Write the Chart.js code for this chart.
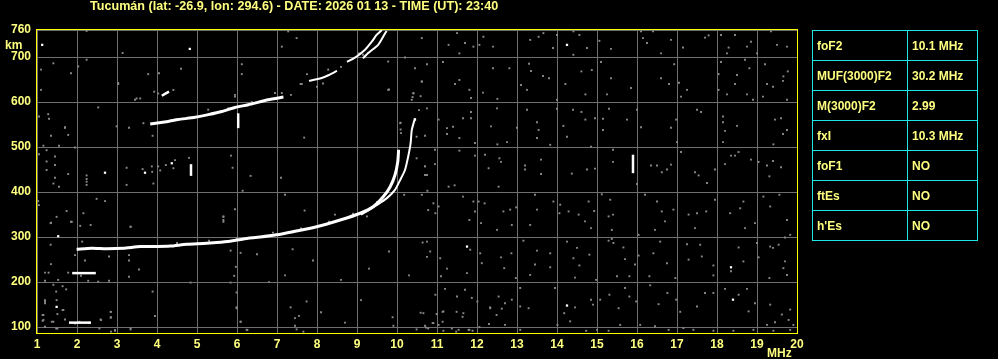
<!DOCTYPE html>
<html>
<head>
<meta charset="utf-8">
<script src="https://cdn.jsdelivr.net/npm/chart.js@4.4.0/dist/chart.umd.min.js"></script>
<style>
html, body { margin: 0; padding: 0; background: #000; }
#wrap { position: relative; width: 998px; height: 359px; overflow: hidden; background: #000; }
#title { position: absolute; left: 90px; top: -1px; font: bold 12.6px "Liberation Sans", Arial, sans-serif; color: #ffff80; white-space: nowrap; }
#params { position: absolute; left: 812px; top: 30px; border-collapse: collapse; table-layout: fixed; font: bold 12px "Liberation Sans", Arial, sans-serif; color: #ffff80; }
#params td { border: 1px solid #1ee6e6; height: 29px; padding: 0 0 0 4px; white-space: nowrap; }
#params td.k { width: 90px; }
#params td.v { width: 65px; }
</style>
</head>
<body>
<div id="wrap">
  <canvas id="mainChart" width="998" height="359"></canvas>
  <div id="title">Tucumán (lat: -26.9, lon: 294.6) - DATE: 2026 01 13 - TIME (UT): 23:40</div>
  <table id="params"></table>
</div>
<script>
// axis ticks
const freqTicks = [1, 2, 3, 4, 5, 6, 7, 8, 9, 10, 11, 12, 13, 14, 15, 16, 17, 18, 19, 20];
const heightTicks = [100, 200, 300, 400, 500, 600, 700, 760];

// scaled parameters table
const paramNames = ['foF2', 'MUF(3000)F2', 'M(3000)F2', 'fxI', 'foF1', 'ftEs', "h'Es"];
const paramValues = ['10.1 MHz', '30.2 MHz', '2.99', '10.3 MHz', 'NO', 'NO', 'NO'];

// F layer trace, ordinary
const oTraceMHz = [1.99, 2.37, 2.74, 3.16, 3.58, 3.99, 4.33, 4.74, 5.16, 5.49, 5.83, 6.16, 6.58, 6.99, 7.4, 7.99, 8.58, 9.08, 9.41, 9.66, 9.83, 9.95, 10.02, 10.04];
const oTraceKm = [273, 275, 274, 275, 279, 279, 280, 284, 286, 288, 291, 296, 300, 305, 312, 323, 338, 353, 368, 390, 412, 438, 468, 494];

// F layer trace, extraordinary
const xTraceMHz = [9.1, 9.24, 9.49, 9.74, 9.95, 10.08, 10.2, 10.28, 10.34, 10.37, 10.45];
const xTraceKm = [350, 357, 371, 386, 405, 427, 449, 479, 508, 538, 564];

// second hop
const hop2MHz = [3.83, 4.28, 4.53, 4.95, 5.28, 5.62, 5.95, 6.28, 6.78, 7.16];
const hop2Km = [551, 557, 561, 566, 572, 579, 588, 594, 605, 611];
const hop2bMHz = [7.8, 8.1, 8.3, 8.5];
const hop2bKm = [647, 653, 660, 669];
const hop2cMHz = [8.75, 8.99, 9.2, 9.37, 9.49, 9.62];
const hop2cKm = [689, 701, 716, 734, 749, 760];
const hop2dMHz = [9.15, 9.28, 9.53, 9.66, 9.74];
const hop2dKm = [697, 709, 727, 746, 758];

// short echoes
const shortEchoes = [
  { mhz: [1.88, 2.47], km: [220, 220] },
  { mhz: [1.8, 2.35], km: [110, 110] },
  { mhz: [6.03, 6.03], km: [542, 575] },
  { mhz: [15.9, 15.9], km: [442, 483] },
  { mhz: [4.12, 4.3], km: [614, 623] },
  { mhz: [4.85, 4.85], km: [436, 462] }
];

// isolated strong echoes [MHz, km]
const whiteSpots = [[14.25, 727], [11.75, 279], [18.35, 233], [14.25, 148], [18.4, 161], [4.82, 718], [2.7, 443], [3.7, 443],
  [4.37, 464], [1.53, 302], [1.49, 145], [10.45, 561], [1.13, 727]];

// weak echoes / noise [MHz, km]
const noiseEchoes = [
  [11.5, 753], [11.29, 727], [11.7, 731], [11.56, 708], [11.91, 723], [12.16, 745], [12.4, 723], [12.06, 727], [13.33, 738], [13.66, 753],
  [13.54, 745], [13.9, 720], [14.0, 749], [14.41, 757], [14.56, 749], [14.41, 705], [14.75, 720], [15.35, 718], [15.06, 736], [16.1, 757],
  [16.15, 742], [16.25, 731], [16.4, 757], [16.85, 738], [16.6, 708], [17.15, 721], [17.7, 743], [17.79, 748], [18.1, 749], [18.45, 749],
  [18.29, 721], [18.25, 708], [18.85, 734], [18.75, 723], [19.0, 708], [19.35, 757], [19.5, 727], [19.75, 723],
  [10.75, 684], [11.15, 689], [11.56, 649], [11.45, 640], [11.81, 627], [11.85, 609], [12.15, 621], [12.4, 675], [12.51, 607], [12.81, 675],
  [13.1, 638], [13.25, 627], [13.35, 669], [13.3, 685], [13.65, 658], [13.8, 653], [14.0, 605], [14.21, 640], [14.61, 668], [14.71, 617],
  [14.87, 671], [15.1, 689], [15.35, 653], [15.25, 617], [15.85, 631], [16.6, 653], [16.8, 640], [16.93, 684], [17.05, 643], [17.25, 627],
  [17.1, 612], [18.1, 689], [18.04, 662], [18.5, 660], [18.81, 675], [18.7, 694], [18.45, 640], [18.04, 627], [18.25, 617], [18.75, 617],
  [18.9, 605], [19.2, 684], [19.25, 640], [19.4, 634], [19.66, 657], [19.65, 647], [19.77, 668], [19.15, 612], [19.75, 605],
  [10.75, 586], [11.04, 561], [11.25, 542], [11.4, 545], [11.25, 529], [11.56, 520], [11.65, 564], [11.85, 578], [11.85, 564], [11.95, 509],
  [12.35, 546], [12.5, 586], [12.51, 506], [12.75, 511], [13.0, 543], [13.25, 583], [13.5, 555], [13.54, 538], [13.5, 520], [14.0, 585],
  [14.16, 547], [14.25, 523], [14.4, 583], [14.61, 578], [14.71, 561], [14.95, 564], [15.15, 563], [15.3, 585], [15.15, 538], [15.75, 561],
  [16.0, 583], [16.1, 544], [16.85, 543], [16.98, 561], [17.0, 511], [17.5, 583], [17.6, 578], [18.15, 568], [18.15, 555], [18.2, 536],
  [18.15, 511], [18.5, 547], [19.45, 561], [19.6, 564], [19.75, 538], [19.65, 529], [19.41, 506],
  [10.95, 494], [10.7, 457], [10.95, 462], [10.75, 438], [11.56, 492], [11.95, 481], [12.2, 483], [12.29, 453], [12.56, 475], [12.6, 467],
  [13.2, 459], [13.2, 450], [13.6, 472], [13.6, 440], [13.83, 505], [14.37, 441], [14.75, 450], [14.95, 452], [14.85, 501], [15.4, 494],
  [15.4, 467], [16.35, 459], [16.5, 459], [16.62, 444], [16.85, 461], [16.75, 450], [17.1, 489], [17.45, 444], [17.54, 437], [17.95, 450],
  [18.2, 462], [18.35, 481], [18.45, 481], [18.54, 489], [18.85, 472], [19.04, 467], [19.25, 459], [19.4, 469], [19.6, 455], [19.31, 435],
  [10.91, 375], [11.04, 368], [10.96, 353], [11.29, 412], [11.44, 415], [11.65, 390], [11.91, 379], [12.04, 379], [12.19, 375], [11.81, 338],
  [11.95, 357], [12.1, 331], [12.54, 412], [12.66, 357], [12.83, 361], [12.98, 366], [12.87, 327], [12.5, 316], [13.45, 394], [13.5, 361],
  [13.33, 327], [13.91, 379], [14.08, 372], [14.06, 353], [14.29, 357], [14.54, 350], [14.7, 335], [14.79, 379], [14.93, 358], [14.85, 320],
  [15.12, 395], [15.33, 383], [15.29, 346], [15.4, 350], [15.37, 316], [15.37, 296], [16.0, 418], [16.04, 305], [16.2, 394], [16.5, 379],
  [16.62, 357], [16.7, 335], [16.45, 316], [16.91, 361], [17.29, 350], [17.5, 353], [17.73, 357], [17.45, 320], [17.75, 420], [17.95, 383],
  [18.33, 353], [18.58, 364], [18.66, 379], [18.7, 320], [18.95, 331], [19.16, 390], [19.33, 368], [19.56, 394], [19.75, 338], [19.83, 305],
  [19.7, 299],
  [10.75, 290], [10.83, 268], [10.75, 256], [11.08, 253], [11.25, 230], [11.1, 213], [11.83, 272], [11.75, 220], [12.12, 242], [12.08, 264],
  [12.6, 255], [12.86, 264], [12.68, 231], [12.97, 209], [13.16, 292], [13.5, 270], [13.45, 239], [13.33, 216], [13.83, 233], [13.83, 264],
  [14.25, 290], [14.5, 276], [14.41, 253], [14.56, 237], [14.45, 210], [14.81, 261], [14.98, 205], [15.29, 292], [15.41, 287], [15.66, 277],
  [15.7, 251], [15.81, 213], [15.5, 213], [16.04, 259], [15.95, 239], [16.31, 213], [16.41, 264], [16.58, 290], [16.75, 242], [16.96, 209],
  [17.25, 284], [17.29, 250], [17.58, 283], [17.62, 257], [17.91, 237], [17.91, 215], [18.35, 224], [18.54, 277], [18.66, 246], [19.0, 287],
  [19.04, 255], [19.33, 279], [19.4, 276], [19.54, 283], [19.66, 231], [19.75, 216], [19.31, 209], [19.7, 246],
  [10.96, 172], [11.2, 185], [11.5, 168], [11.7, 183], [11.87, 165], [11.66, 131], [11.16, 135], [10.66, 131], [10.91, 109], [12.33, 142],
  [12.54, 168], [12.7, 153], [12.62, 141], [12.87, 161], [13.08, 146], [13.29, 142], [13.08, 187], [13.95, 187], [14.18, 131], [14.45, 144],
  [14.85, 161], [14.9, 150], [15.08, 161], [15.31, 172], [15.54, 142], [15.7, 187], [15.81, 168], [15.98, 157], [16.33, 193], [16.54, 151],
  [16.76, 176], [16.98, 161], [17.08, 134], [17.5, 146], [17.7, 176], [17.91, 176], [18.2, 185], [18.54, 172], [18.75, 185], [18.95, 153],
  [18.79, 135], [19.33, 150], [19.62, 128], [19.83, 139], [19.79, 116], [19.45, 111], [19.25, 105],
  [10.73, 99], [11.04, 105], [11.54, 94], [11.79, 94], [12.7, 105], [13.08, 94], [14.01, 105], [14.33, 113], [14.73, 92], [15.0, 94],
  [15.29, 92], [15.58, 105], [16.08, 105], [16.45, 102], [16.79, 94], [17.16, 98], [17.41, 94], [17.91, 92], [18.41, 92], [18.91, 94],
  [19.41, 92], [19.83, 94], [19.91, 105], [10.49, 95], [10.59, 132], [10.7, 103], [10.78, 97], [10.89, 109], [10.99, 129], [11.14, 134],
  [11.14, 112], [11.16, 92], [11.49, 134], [11.64, 123], [11.37, 97], [11.48, 90], [11.81, 94], [11.89, 92], [12.01, 157], [12.06, 100],
  [12.3, 107], [12.33, 144], [12.49, 127],
  [1.2, 157], [1.66, 138], [1.16, 127], [1.51, 129], [1.16, 116], [1.41, 112], [1.2, 101], [1.51, 97], [2.85, 134], [2.85, 122],
  [2.6, 116], [2.56, 97], [2.85, 90], [2.95, 92], [3.34, 95], [3.95, 125], [5.99, 144], [6.09, 112], [6.24, 94], [7.34, 144],
  [7.74, 157], [7.55, 125], [7.45, 120], [7.45, 103], [7.49, 95], [7.66, 90], [8.7, 110], [9.89, 122], [9.91, 103],
  [2.24, 758], [2.03, 679], [3.14, 709], [1.41, 686], [1.1, 672], [1.85, 664], [2.24, 694], [4.6, 674], [4.05, 664], [3.78, 662],
  [3.03, 640], [1.1, 627], [2.53, 588], [1.28, 573], [1.3, 563], [1.05, 568], [3.66, 553], [2.99, 546], [1.7, 544], [6.12, 684],
  [6.12, 662], [5.95, 612], [7.12, 723], [7.49, 742], [7.28, 757], [8.28, 672], [7.62, 640], [7.35, 616], [9.78, 690], [10.2, 699],
  [10.45, 675], [9.78, 627], [10.41, 620], [10.37, 605], [10.62, 646], [10.62, 742], [10.08, 553],
  [1.7, 543], [1.35, 525], [1.78, 527], [1.16, 503], [1.55, 503], [1.24, 493], [1.05, 484], [1.45, 479], [1.24, 468], [1.45, 460],
  [1.24, 449], [1.78, 440], [1.45, 432], [1.41, 419], [1.55, 412], [1.95, 499], [2.24, 437], [2.24, 429], [2.24, 423], [2.24, 416],
  [3.24, 454], [3.24, 416], [3.64, 451], [3.87, 457], [3.88, 445], [4.03, 457], [4.08, 448], [4.22, 460], [4.41, 453], [4.45, 471],
  [4.8, 476], [3.91, 419], [3.89, 525], [3.3, 543], [5.85, 481], [5.89, 454],
  [1.03, 380], [1.05, 371], [2.49, 385], [2.7, 380], [1.74, 358], [1.49, 345], [1.35, 332], [1.85, 334], [2.16, 353], [5.66, 345], [5.66, 334],
  [1.34, 331], [1.87, 334], [2.08, 325], [2.34, 327], [3.34, 323], [1.95, 260], [1.34, 283], [2.13, 290], [1.35, 240], [1.2, 221],
  [1.29, 221], [1.2, 203], [1.53, 205], [2.28, 203], [2.53, 201], [2.8, 203], [2.2, 248], [2.8, 257], [3.3, 260], [3.3, 248],
  [3.55, 228], [3.3, 212], [1.41, 194], [1.64, 191], [1.48, 179], [1.73, 184], [1.2, 160], [1.49, 160], [1.64, 138], [1.2, 153],
  [1.14, 127], [1.14, 114], [1.2, 100], [1.37, 112], [1.7, 117], [1.48, 97], [2.84, 134], [2.84, 121], [2.59, 117], [2.95, 94],
  [3.95, 125], [3.89, 179], [3.34, 97], [4.84, 199], [5.84, 199], [5.97, 234], [5.93, 214], [5.84, 270], [6.09, 265], [5.99, 177],
  [5.99, 142], [6.09, 112], [6.26, 94], [2.06, 112],
  [3.03, 642], [3.93, 623], [4.03, 619], [4.41, 627], [3.45, 605], [3.49, 608], [3.58, 608], [5.95, 616], [7.59, 640], [10.62, 645],
  [10.41, 619], [10.39, 611], [10.59, 613], [10.55, 582], [9.8, 628], [10.09, 554], [10.09, 539], [10.1, 531], [10.49, 523], [10.7, 457],
  [10.7, 438], [10.7, 525], [10.49, 475], [10.18, 394], [10.62, 394], [10.76, 403], [10.78, 360], [10.64, 288], [6.14, 403], [6.34, 436],
  [7.1, 432], [7.2, 394], [7.68, 521], [7.69, 359], [5.95, 362], [5.66, 346], [5.66, 338], [3.34, 323], [7.39, 273],
  [6.5, 262], [7.2, 215], [7.9, 248], [8.6, 205], [9.3, 230], [9.8, 268], [10.3, 215], [6.8, 200], [8.1, 133], [9.1, 160],
  [4.5, 287], [5.3, 292], [6.0, 297], [6.9, 310], [7.6, 319], [8.3, 334], [8.9, 352], [9.5, 378], [9.25, 346], [8.45, 350],
  [5.28, 583], [5.78, 586], [6.37, 600], [6.95, 620], [7.12, 620], [8.0, 634], [8.15, 641], [9.05, 708], [9.15, 705], [7.75, 662],
  [8.6, 678], [1.78, 221], [2.1, 214], [2.3, 110], [1.95, 108], [6.03, 556]
];

const toPoints = (xs, ys) => xs.map((x, i) => ({ x: x, y: ys[i] }));
const pairPoints = list => list.map(p => ({ x: p[0], y: p[1] }));

const traceLine = (data, width) => ({
  type: 'line',
  data: data,
  borderColor: '#ffffff',
  borderWidth: width,
  pointRadius: 0,
  showLine: true,
  fill: false,
  tension: 0.2
});

const datasets = [
  traceLine(toPoints(oTraceMHz, oTraceKm), 3),
  traceLine(toPoints(xTraceMHz, xTraceKm), 2),
  traceLine(toPoints(hop2MHz, hop2Km), 3),
  traceLine(toPoints(hop2bMHz, hop2bKm), 2),
  traceLine(toPoints(hop2cMHz, hop2cKm), 2),
  traceLine(toPoints(hop2dMHz, hop2dKm), 2)
];
shortEchoes.forEach(s => datasets.push(traceLine(toPoints(s.mhz, s.km), 2.5)));
datasets.push({
  data: pairPoints(whiteSpots),
  backgroundColor: '#ffffff',
  borderWidth: 0,
  pointStyle: 'rect',
  pointRadius: 1.6
});
datasets.push({
  data: pairPoints(noiseEchoes),
  backgroundColor: '#8a8a8a',
  borderWidth: 0,
  pointStyle: 'rect',
  pointRadius: 1.35
});

const frame = {
  id: 'frame',
  afterDraw(chart) {
    const { ctx, chartArea: a } = chart;
    ctx.save();
    ctx.strokeStyle = '#ffff00';
    ctx.lineWidth = 1;
    ctx.strokeRect(a.left - 0.5, a.top - 0.5, a.right - a.left + 1, a.bottom - a.top + 1);
    ctx.fillStyle = '#ffff80';
    ctx.font = 'bold 12px "Liberation Sans", Arial, sans-serif';
    ctx.textAlign = 'left';
    ctx.textBaseline = 'alphabetic';
    ctx.fillText('km', a.left - 32, a.top + 19);
    ctx.fillText('MHz', a.right - 30, a.bottom + 24);
    ctx.restore();
  }
};

const tickFont = { family: '"Liberation Sans", Arial, sans-serif', size: 12, weight: 'bold' };

new Chart(document.getElementById('mainChart').getContext('2d'), {
  type: 'scatter',
  data: { datasets: datasets },
  options: {
    responsive: false,
    animation: false,
    layout: { padding: { top: 30, right: 201, left: 0, bottom: 0 } },
    plugins: { legend: { display: false }, tooltip: { enabled: false } },
    scales: {
      x: {
        type: 'linear',
        min: freqTicks[0],
        max: freqTicks[freqTicks.length - 1],
        afterFit: s => { s.height = 26; },
        afterBuildTicks: s => { s.ticks = freqTicks.map(v => ({ value: v })); },
        ticks: { color: '#ffff80', font: tickFont, padding: 4, autoSkip: false, maxRotation: 0 },
        grid: { color: '#6e6e6e', lineWidth: 1, drawTicks: false },
        border: { display: false }
      },
      y: {
        type: 'linear',
        min: 87,
        max: heightTicks[heightTicks.length - 1],
        afterFit: s => { s.width = 37; },
        afterBuildTicks: s => { s.ticks = heightTicks.map(v => ({ value: v })); },
        ticks: { color: '#ffff80', font: tickFont, padding: 6, autoSkip: false },
        grid: { color: '#6e6e6e', lineWidth: 1, drawTicks: false },
        border: { display: false }
      }
    }
  },
  plugins: [frame]
});

const table = document.getElementById('params');
paramNames.forEach((name, i) => {
  const tr = document.createElement('tr');
  tr.innerHTML = '<td class="k">' + name + '</td><td class="v">' + paramValues[i] + '</td>';
  table.appendChild(tr);
});
</script>
</body>
</html>
